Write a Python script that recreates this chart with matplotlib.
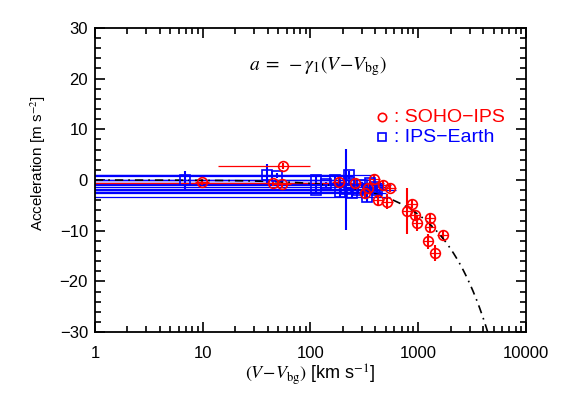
import numpy as np
import matplotlib
matplotlib.use("Agg")
import matplotlib.pyplot as plt
from matplotlib.ticker import FixedLocator, LogLocator, MultipleLocator, NullFormatter

plt.rcParams['font.family'] = ['Liberation Sans', 'DejaVu Sans']
plt.rcParams['mathtext.fontset'] = 'stix'

# SOHO-IPS (red circles)
soho_dv = [9.8, 45, 55, 55.6, 184, 259, 388, 321, 424, 469, 547, 515, 340,
           875, 787, 933, 975, 1285, 1285, 1700, 1234, 1430]
soho_acc = [-0.4, -0.6, -0.8, 2.8, -0.4, -0.6, 0.2, -2.6, -4.0, -1.0, -1.6, -4.3, -1.6,
            -4.7, -6.1, -6.9, -8.5, -7.5, -9.3, -10.8, -12.1, -14.4]
soho_yerr = [0.5, 0.6, 0.7, 0.6, 0.8, 0.8, 1.0, 0.8, 1.0, 0.8, 0.8, 1.5, 0.8,
             0.8, 4.6, 1.0, 1.5, 1.0, 1.2, 0.8, 1.5, 1.5]
soho_xlo = [8.5, 0.5, 45, 14, 160, 225, 340, 280, 370, 410, 480, 450, 300,
            780, 700, 830, 870, 1150, 1150, 1500, 1100, 1280]
soho_xhi = [11.5, 150, 66, 99, 210, 295, 440, 365, 480, 530, 620, 580, 380,
            980, 880, 1040, 1080, 1420, 1420, 1900, 1370, 1600]

# IPS-Earth (blue squares)
ips_dv = [6.8, 39.5, 49, 112, 112, 169, 188, 213, 227, 227, 241, 275, 333, 356, 394, 414, 140, 300]
ips_acc = [0.0, 1.0, 0.8, 0.0, -2.0, 0.0, -2.3, -1.8, 1.0, -0.6, -2.6, -2.0, -3.4, -0.6, -1.4, -2.0, -0.8, -1.0]
ips_yerr = [1.7, 2.2, 0.5, 0.8, 0.8, 0.5, 1.0, 8.0, 0.8, 0.6, 1.0, 0.8, 1.0, 0.8, 0.8, 0.8, 0.5, 0.6]
ips_xlo = [0.5] * 18
ips_xhi = [300, 200, 250, 350, 400, 300, 450, 500, 400, 350, 500, 420, 550, 480, 500, 620, 330, 560]

gamma1 = 6.8e-3  # m s^-2 per km s^-1
fit_dv = np.logspace(0, 4, 400)

fig = plt.figure(figsize=(5.65, 4.04), dpi=100)
ax = fig.add_axes([0.168, 0.178, 0.763, 0.753])

ips_x = np.array(ips_dv)
ax.errorbar(ips_x, ips_acc, xerr=[ips_x - np.array(ips_xlo), np.array(ips_xhi) - ips_x],
            fmt='none', ecolor='blue', elinewidth=0.9, capsize=0)
ax.errorbar(ips_x, ips_acc, yerr=ips_yerr, fmt='s', mfc='none', mec='blue', ms=7,
            mew=1.2, ecolor='blue', elinewidth=1.5, capsize=0)

soho_x = np.array(soho_dv)
ax.errorbar(soho_x, soho_acc, xerr=[soho_x - np.array(soho_xlo), np.array(soho_xhi) - soho_x],
            fmt='none', ecolor='red', elinewidth=0.9, capsize=0)
ax.errorbar(soho_x, soho_acc, yerr=soho_yerr, fmt='o', mfc='none', mec='red', ms=7,
            mew=1.2, ecolor='red', elinewidth=1.5, capsize=0)

ax.plot(fit_dv, -gamma1 * fit_dv, color='black', lw=1.2, ls=(0, (5, 3, 1, 3)))

ax.set_xscale('log')
ax.set_xlim(1, 10000)
ax.set_ylim(-30, 30)
ax.xaxis.set_major_locator(FixedLocator([1, 10, 100, 1000, 10000]))
ax.set_xticklabels(['1', '10', '100', '1000', '10000'])
ax.xaxis.set_minor_locator(LogLocator(base=10, subs=np.arange(2, 10)))
ax.xaxis.set_minor_formatter(NullFormatter())
ax.yaxis.set_major_locator(MultipleLocator(10))
ax.yaxis.set_minor_locator(MultipleLocator(2))
ax.tick_params(which='both', direction='in', top=True, right=True, labelsize=12, width=1.2)
ax.tick_params(which='major', length=7)
ax.tick_params(axis='x', which='major', pad=10)
ax.tick_params(axis='y', which='major', pad=5)
ax.tick_params(which='minor', length=4)
for s in ax.spines.values():
    s.set_linewidth(1.3)

ax.set_xlabel(r'$(V\!-\!V_{\rm bg})$ [km s$^{-1}$]', fontsize=13, labelpad=1)
ax.set_ylabel(r'Acceleration [m s$^{-2}$]', fontsize=11, labelpad=8, y=0.556)

ax.text(0.517, 0.875, r'$a\;=\;-\gamma_1(V\!-\!V_{\rm bg})$', transform=ax.transAxes,
        ha='center', va='center', fontsize=14)

ax.plot([0.667], [0.707], 'o', mfc='none', mec='red', ms=6, mew=1.2, transform=ax.transAxes)
ax.text(0.694, 0.707, ': SOHO\u2212IPS', color='red', fontsize=14, transform=ax.transAxes,
        va='center')
ax.plot([0.667], [0.641], 's', mfc='none', mec='blue', ms=6, mew=1.2, transform=ax.transAxes)
ax.text(0.694, 0.641, ': IPS\u2212Earth', color='blue', fontsize=14, transform=ax.transAxes,
        va='center')

fig.savefig('out.png', dpi=100)
